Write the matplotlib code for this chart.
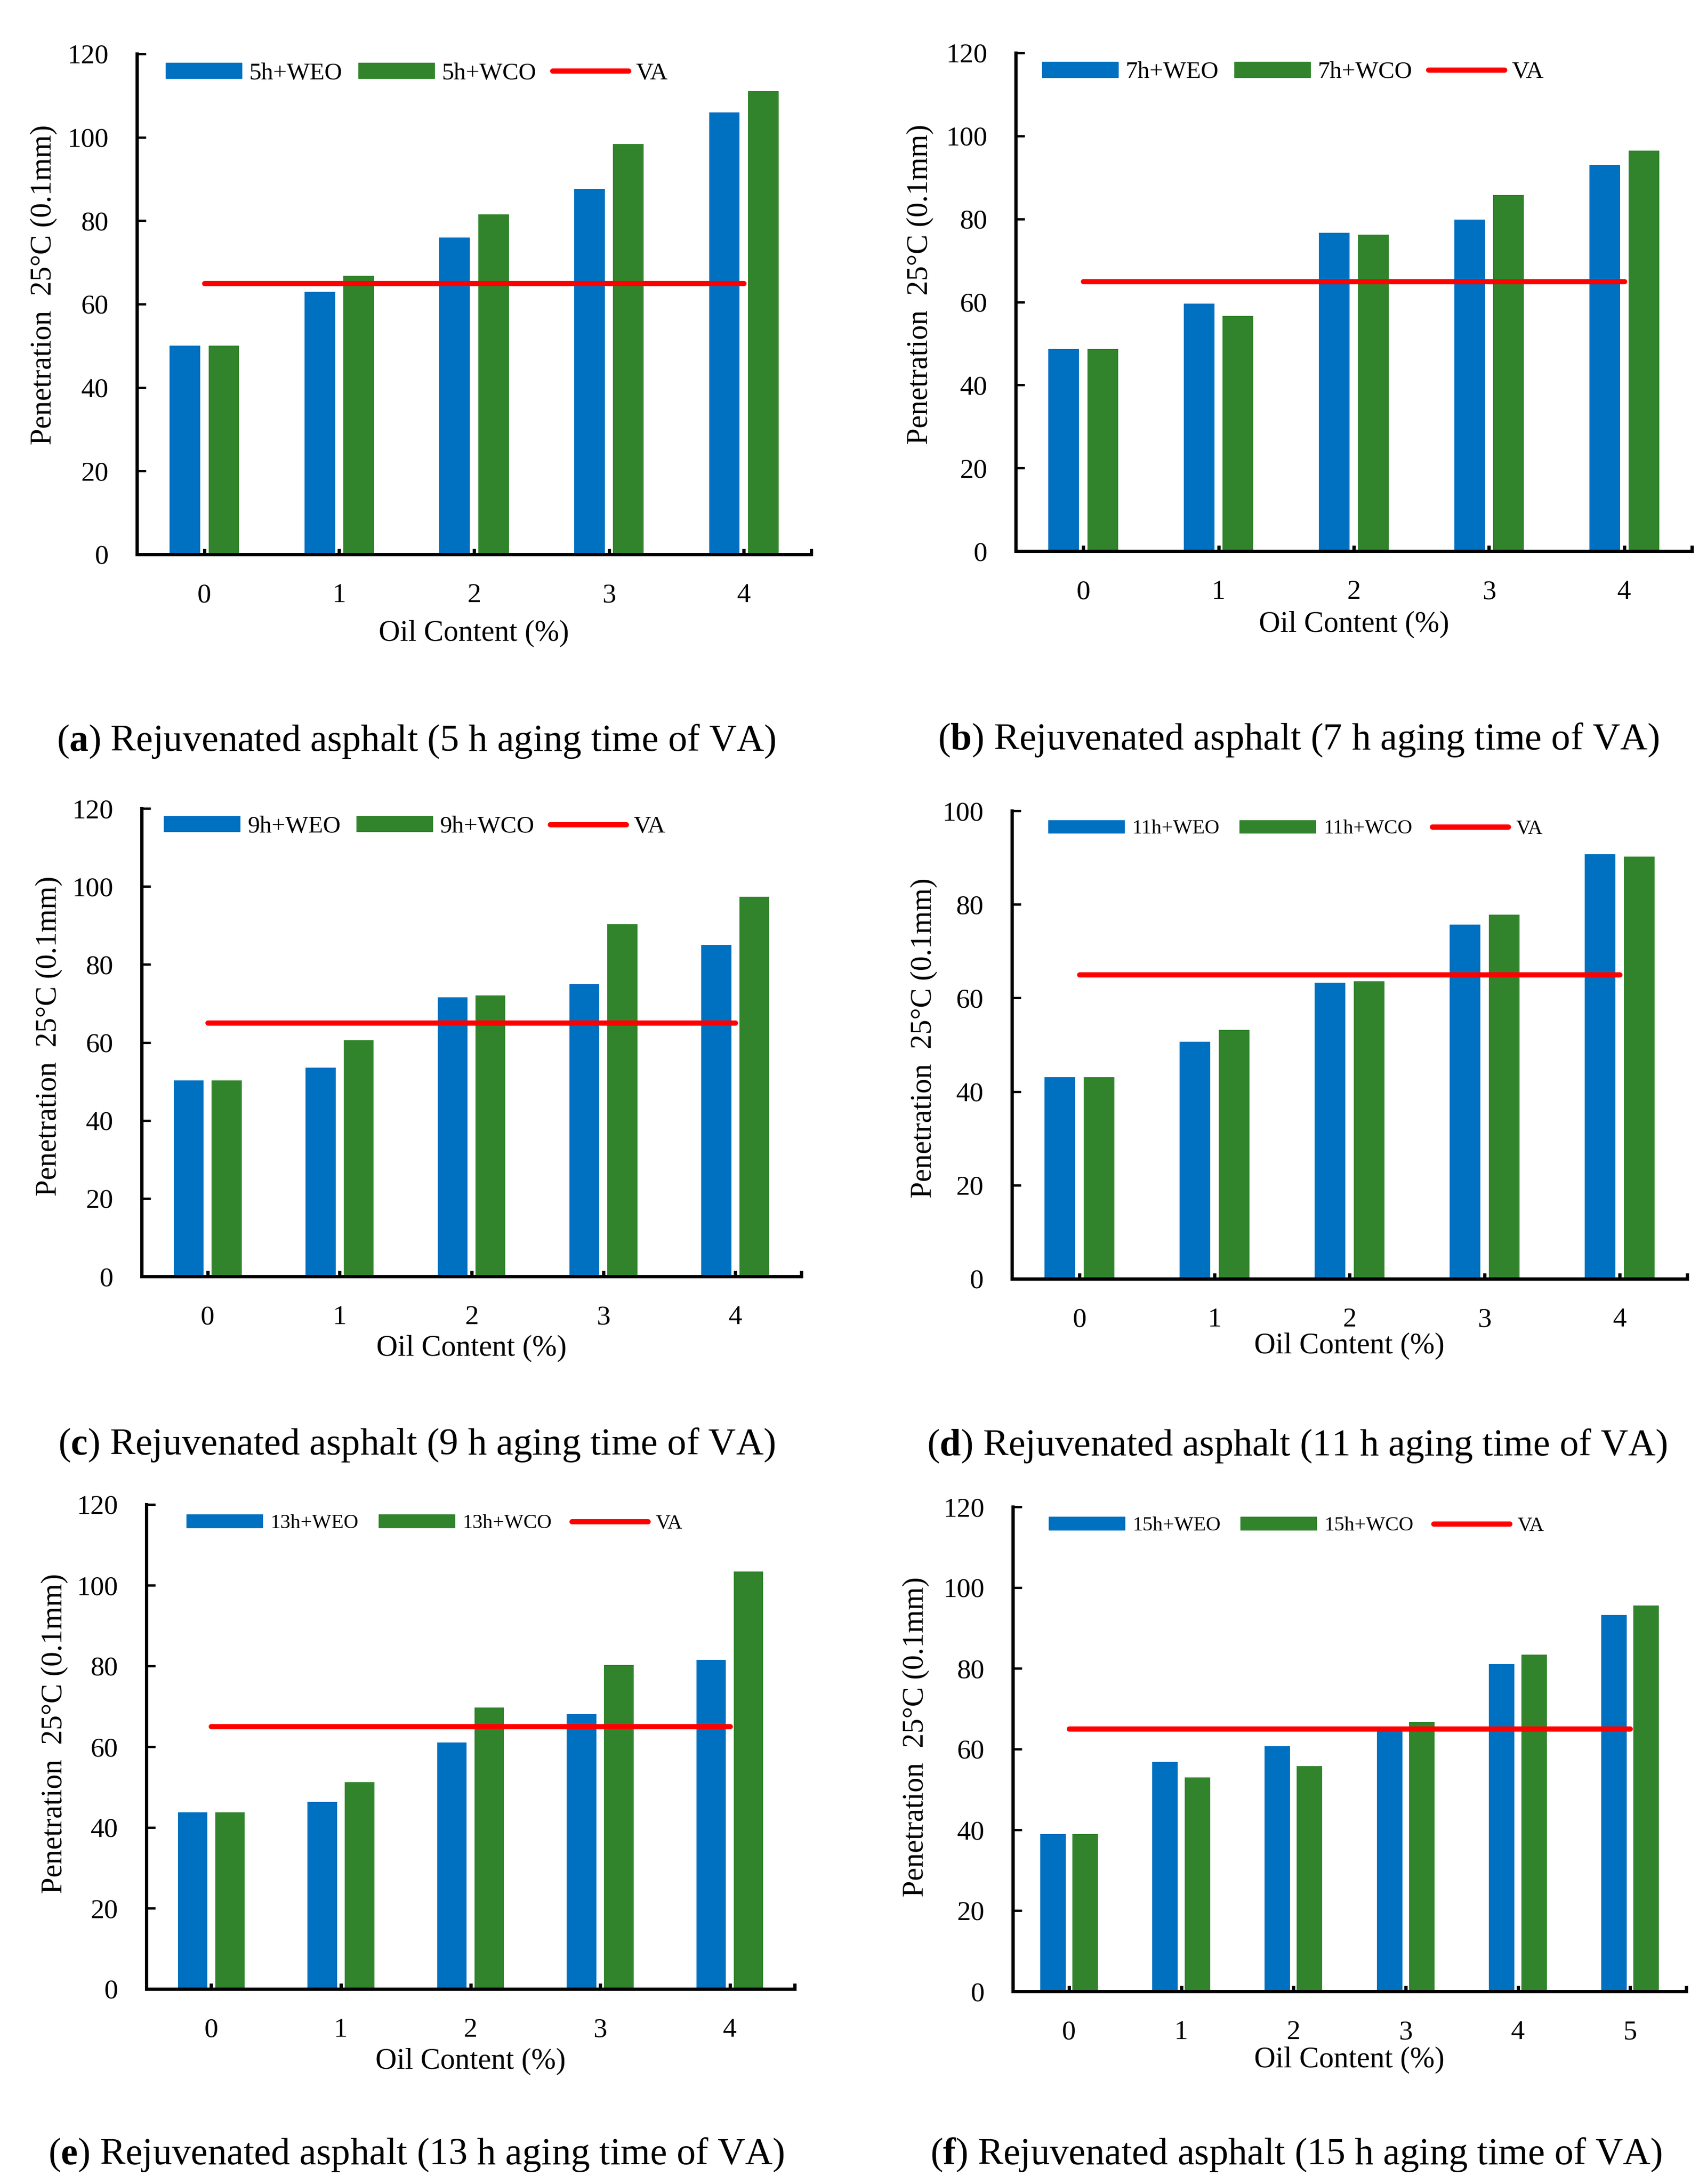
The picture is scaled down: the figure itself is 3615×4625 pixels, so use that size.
import matplotlib
matplotlib.use("Agg")
import matplotlib.pyplot as plt
from matplotlib.patches import Patch
from matplotlib.lines import Line2D
import numpy as np

plt.rcParams["font.family"] = "Liberation Serif"
plt.rcParams["mathtext.fontset"] = "custom"
plt.rcParams["mathtext.rm"] = "Liberation Serif"
plt.rcParams["mathtext.bf"] = "Liberation Serif:bold"

# --- data ---
aging_hours = [5, 7, 9, 11, 13, 15]
panel_letters = ["a", "b", "c", "d", "e", "f"]
oil_5 = [0, 1, 2, 3, 4]
oil_6 = [0, 1, 2, 3, 4, 5]

weo_5h = [50, 63, 76, 87.6, 106]
wco_5h = [50, 66.8, 81.5, 98.4, 111]
weo_7h = [48.7, 59.6, 76.7, 79.8, 93]
wco_7h = [48.7, 56.7, 76.2, 85.8, 96.4]
weo_9h = [50.2, 53.5, 71.6, 75.0, 85.0]
wco_9h = [50.2, 60.6, 72.1, 90.3, 97.4]
weo_11h = [43.1, 50.7, 63.3, 75.7, 90.7]
wco_11h = [43.1, 53.2, 63.6, 77.8, 90.2]
weo_13h = [43.7, 46.3, 61.1, 68.1, 81.5]
wco_13h = [43.7, 51.2, 69.7, 80.2, 103.4]
weo_15h = [38.9, 56.9, 60.7, 65.0, 81.0, 93.2]
wco_15h = [38.9, 53.0, 55.8, 66.7, 83.4, 95.6]
va_penetration = 65

y_max = [120, 120, 120, 100, 120, 120]

BLUE = "#0070C0"
GREEN = "#31842B"
RED = "#FF0000"

W, H = 3615, 4625
fig = plt.figure(figsize=(W / 100, H / 100), dpi=100)

# panel boxes in pixels: left, right, top, bottom
boxes = [(290, 1718, 114, 1174), (2151, 3583, 112, 1167),
         (300, 1697, 1712, 2703), (2143, 3573, 1717, 2708),
         (310, 1683, 3186, 4212), (2145, 3571, 3191, 4217)]
# legend anchor (axes fraction) and font sizes
leg_x = [0.043, 0.039, 0.034, 0.054, 0.062, 0.053]
leg_fs = [37, 37, 37, 31, 31, 31]
# x label offset below axis, y label offset left of spine and centre (px)
xlab_off = [167, 155, 152, 142, 153, 145]
ylab_off = [198, 203, 197, 187, 195, 206]
ylab_y = [603, 602, 2194, 2198, 3671, 3678]
# captions: centre x, baseline y (px)
cap_x = [882, 2750, 882, 2747, 881, 2745]
cap_y = [1590, 1587, 3080, 3082, 4583, 4583]

series = [(oil_5, weo_5h, wco_5h), (oil_5, weo_7h, wco_7h),
          (oil_5, weo_9h, wco_9h), (oil_5, weo_11h, wco_11h),
          (oil_5, weo_13h, wco_13h), (oil_6, weo_15h, wco_15h)]

bw, off = 0.227, 0.144
for i, (x, weo, wco) in enumerate(series):
    l, r, t, b = boxes[i]
    ax = fig.add_axes([l / W, 1 - b / H, (r - l) / W, (b - t) / H])
    xs = np.arange(len(x))
    ax.bar(xs - off, weo, bw, color=BLUE, zorder=2)
    ax.bar(xs + off, wco, bw, color=GREEN, zorder=2)
    ax.plot([xs[0], xs[-1]], [va_penetration] * 2, color=RED, lw=8,
            solid_capstyle="round", zorder=3)
    ax.set_xlim(-0.5, len(x) - 0.5)
    ax.set_ylim(0, y_max[i])
    ax.set_yticks(np.arange(0, y_max[i] + 1, 20))
    ax.set_xticks(xs)
    ax.set_xticklabels([str(v) for v in x])
    ax.set_xticks([len(x) - 0.5], minor=True)
    for s in ["top", "right"]:
        ax.spines[s].set_visible(False)
    for s in ["left", "bottom"]:
        ax.spines[s].set_linewidth(5)
    ax.tick_params(axis="y", direction="in", length=14, width=3.5,
                   labelsize=42, pad=43)
    ax.tick_params(axis="x", which="both", direction="in", length=9,
                   width=5, labelsize=42, pad=44)

    h = aging_hours[i]
    handles = [Patch(color=BLUE, label=f"{h}h+WEO"),
               Patch(color=GREEN, label=f"{h}h+WCO"),
               Line2D([], [], color=RED, lw=8, solid_capstyle="round",
                      label="VA")]
    fs = leg_fs[i]
    ax.legend(handles=handles, ncol=3, loc="center left",
              bbox_to_anchor=(leg_x[i], 0.961), frameon=False,
              borderpad=0, borderaxespad=0, fontsize=fs,
              handlelength=161 / (fs * 100 / 72), handleheight=0.6,
              handletextpad=0.3 if fs > 35 else 0.38,
              columnspacing=0.66 if fs > 35 else 0.99)

    fig.text((l + r) / 2 / W, 1 - (b + xlab_off[i]) / H, "Oil Content (%)",
             ha="center", va="center", fontsize=45)
    fig.text((l - ylab_off[i]) / W, 1 - ylab_y[i] / H,
             "Penetration  25\u00b0C (0.1mm)", ha="center", va="center",
             rotation=90, fontsize=45)
    fig.text(cap_x[i] / W, 1 - cap_y[i] / H,
             r"($\mathbf{" + panel_letters[i] + r"}$) Rejuvenated asphalt ("
             + f"{h} h aging time of VA)",
             ha="center", va="baseline", fontsize=58)

fig.savefig("out.png", dpi=100)
